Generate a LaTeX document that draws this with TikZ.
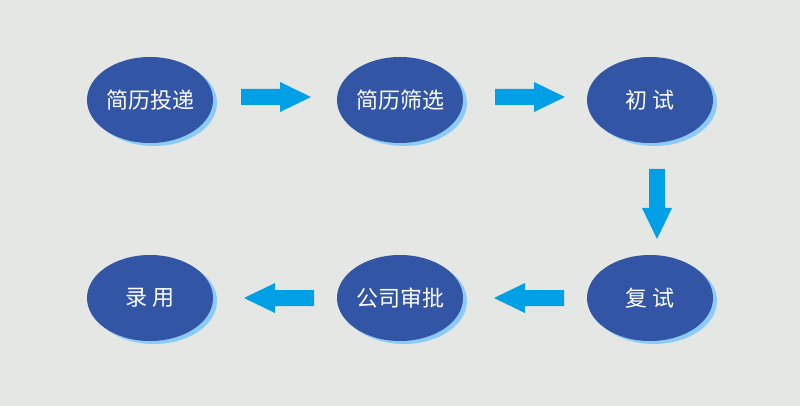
\documentclass[tikz,border=0pt]{standalone}
\usepackage{fontspec}
\newfontfamily\cjk{Noto Sans CJK SC}
\usetikzlibrary{shapes.geometric}
\definecolor{bg}{HTML}{E5E7E4}
\definecolor{ell}{HTML}{3355A5}
\definecolor{shd}{HTML}{8CCBF5}
\definecolor{arr}{HTML}{00A0E6}
\tikzset{
 stage/.style={ellipse,fill=ell,minimum width=126pt,minimum height=86pt,inner sep=0pt,text=white,font=\cjk\fontsize{22}{22}\selectfont},
 shd/.style={ellipse,fill=shd,minimum width=126pt,minimum height=86pt},
 fatarrow/.pic={\fill[arr] (-35,-8) -- (4,-8) -- (4,-15) -- (35,0) -- (4,15) -- (4,8) -- (-35,8) -- cycle;}
}
\begin{document}
\begin{tikzpicture}[x=1pt,y=-1pt]
\fill[bg] (0,0) rectangle (800,406);
\foreach \n/\x/\y/\t in {a/150/100/简历投递,b/400/100/简历筛选,c/650/100/初\ 试,d/650/298/复\ 试,e/400/298/公司审批,f/150/298/录\ 用}{
 \node[shd] at (\x+4,\y+3) {};
 \node[stage] (\n) at (\x,\y) {\t};
}
\pic at (276,97) {fatarrow};
\pic at (530,97) {fatarrow};
\pic[rotate=-90] at (657,204) {fatarrow};
\pic[rotate=180] at (529,298) {fatarrow};
\pic[rotate=180] at (279,298) {fatarrow};
\end{tikzpicture}
\end{document}
